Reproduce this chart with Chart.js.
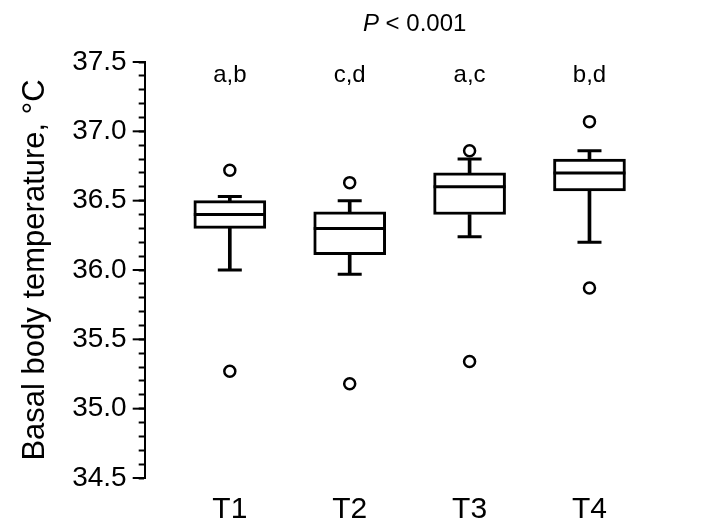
<!DOCTYPE html>
<html><head><meta charset="utf-8">
<script src="https://cdn.jsdelivr.net/npm/chart.js@4"></script>
<style>html,body{margin:0;background:#fff}#w{width:710px;height:529px}</style>
</head><body><div id="w"><canvas id="c"></canvas></div>
<script>
const groups = ['T1', 'T2', 'T3', 'T4'];
const letters = ['a,b', 'c,d', 'a,c', 'b,d'];
const lowWhisker = [36.00, 35.97, 36.24, 36.20];
const q1 = [36.30, 36.11, 36.40, 36.57];
const median = [36.40, 36.30, 36.60, 36.70];
const q3 = [36.50, 36.42, 36.70, 36.80];
const highWhisker = [36.53, 36.50, 36.80, 36.86];
const outliersHigh = [36.72, 36.63, 36.86, 37.07];
const outliersLow = [35.27, 35.18, 35.34, 35.87];

const pos = groups.map((g, i) => i + 1);
const pts = arr => arr.map((v, i) => ({ x: pos[i], y: v }));
const rng = (a, b) => a.map((v, i) => ({ x: pos[i], y: [v, b[i]] }));
const FONT = 'Arial, "Liberation Sans"';

const bars = (data, thick, fill) => ({ type: 'bar', order: 2, data, grouped: false, barThickness: thick, backgroundColor: fill, borderColor: '#000', borderWidth: fill === '#000' ? 0 : 3, borderSkipped: false });
const lineMarks = (data, r) => ({ type: 'line', order: 0, data, showLine: false, pointStyle: 'line', pointRadius: r, pointHoverRadius: r, borderColor: '#000', borderWidth: 3, pointBorderWidth: 3 });
const circles = data => ({ type: 'line', order: 0, data, showLine: false, pointRadius: 5.5, borderColor: '#000', borderWidth: 2.5, backgroundColor: '#fff' });

const decor = {
  id: 'decor',
  afterDraw(chart) {
    const { ctx, scales: { x, y } } = chart;
    ctx.save();
    ctx.strokeStyle = '#000'; ctx.lineWidth = 2;
    [34.5, 35, 35.5, 36, 36.5, 37, 37.5].forEach(v => {
      const py = y.getPixelForValue(v);
      ctx.beginPath(); ctx.moveTo(x.left - 12, py); ctx.lineTo(x.left, py); ctx.stroke();
    });
    ctx.fillStyle = '#000'; ctx.textAlign = 'center'; ctx.textBaseline = 'middle';
    ctx.font = '24px ' + FONT;
    letters.forEach((t, i) => ctx.fillText(t, x.getPixelForValue(pos[i]), y.getPixelForValue(37.4)));
    const cx = x.getPixelForValue(2.5) + 5, ty = 24;
    ctx.font = 'italic 24px ' + FONT;
    const wP = ctx.measureText('P').width;
    ctx.font = '24px ' + FONT;
    const rest = ' < 0.001', wR = ctx.measureText(rest).width;
    const sx = cx - (wP + wR) / 2;
    ctx.textAlign = 'left';
    ctx.font = 'italic 24px ' + FONT; ctx.fillText('P', sx, ty);
    ctx.font = '24px ' + FONT; ctx.fillText(rest, sx + wP, ty);
    ctx.restore();
  }
};

new Chart(document.getElementById('c'), {
  type: 'bar',
  data: {
    datasets: [
      bars(rng(lowWhisker, q1), 3, '#000'),
      bars(rng(q3, highWhisker), 3, '#000'),
      bars(rng(q1, q3), 72, '#fff'),
      lineMarks(pts(median), 36),
      lineMarks(pts(lowWhisker), 12),
      lineMarks(pts(highWhisker), 12),
      circles(pts(outliersHigh)),
      circles(pts(outliersLow))
    ]
  },
  options: {
    responsive: true, maintainAspectRatio: false, animation: false,
    layout: { padding: { top: 62, right: 10, left: 11, bottom: 0 } },
    plugins: { legend: { display: false }, tooltip: { enabled: false } },
    scales: {
      x: {
        type: 'linear', min: 0.29, max: 4.68, offset: false,
        afterBuildTicks: s => { s.ticks = pos.map(v => ({ value: v })); },
        afterFit: s => { s.height -= 5; },
        border: { display: false },
        grid: { display: false },
        ticks: { color: '#000', font: { size: 30, family: FONT }, callback: v => groups[v - 1] || '', padding: 6 }
      },
      y: {
        min: 34.5, max: 37.5,
        border: { display: true, color: '#000', width: 2 },
        grid: { display: true, drawOnChartArea: false, drawTicks: true, tickLength: 6, color: '#000', tickWidth: 2 },
        ticks: { stepSize: 0.1, autoSkip: false, color: '#000', padding: 12, font: { size: 28, family: FONT },
          callback: v => Math.abs(v * 2 - Math.round(v * 2)) < 1e-6 ? v.toFixed(1) : '' },
        title: { display: true, text: 'Basal body temperature, °C', color: '#000', font: { size: 31, family: FONT }, padding: 6 }
      }
    }
  },
  plugins: [decor]
});
</script></body></html>
